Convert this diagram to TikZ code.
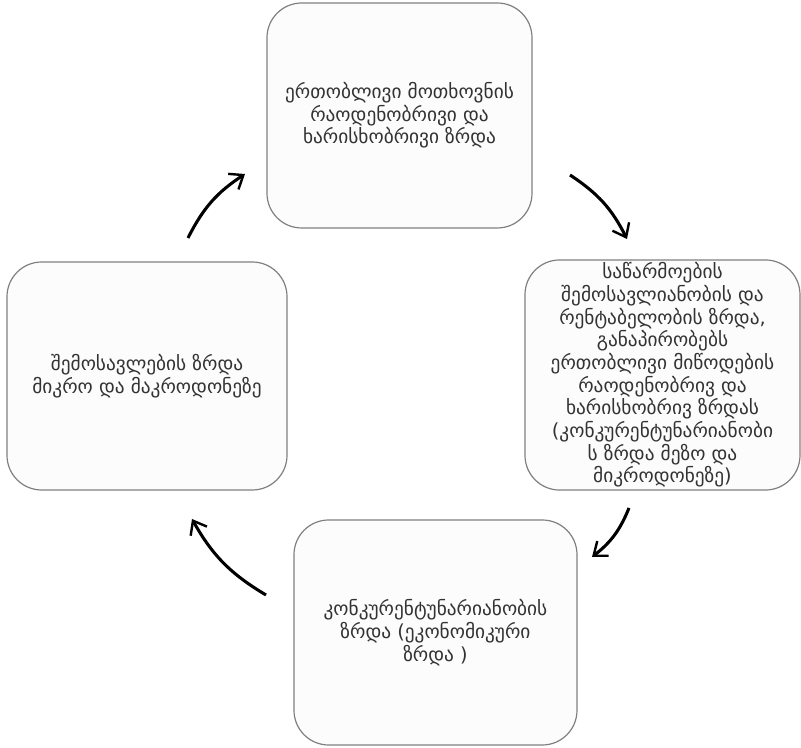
\documentclass[tikz,border=0pt]{standalone}
\usepackage{fontspec}
\usetikzlibrary{arrows.meta}
\newfontfamily\geofont{DejaVu Sans}

\begin{document}
\begin{tikzpicture}[x=0.75pt, y=-0.75pt,
  every node/.style={rectangle, rounded corners=26pt, draw=black!50, line width=0.9pt, fill=black!1,
    align=center, text=black!80, font=\geofont\fontsize{14.5}{17}\selectfont, inner sep=2pt},
  every path/.style={line width=2.3pt},
  cyc/.style={draw=black, bend left=15, -{Straight Barb[length=9pt, width=14pt, line width=1.8pt]}}]
  \useasboundingbox (0,0) rectangle (801,748);

  % boxes
  \node[minimum width=198.75pt, minimum height=168.75pt] (demand) at (399.5,115.5)
    {ერთობლივი მოთხოვნის\\რაოდენობრივი და\\ხარისხობრივი ზრდა};
  \node[minimum width=206.25pt, minimum height=169.5pt] (firms) at (662.5,375)
    {საწარმოების\\შემოსავლიანობის და\\რენტაბელობის ზრდა,\\განაპირობებს\\ერთობლივი მიწოდების\\რაოდენობრივ და\\ხარისხობრივ ზრდას\\(კონკურენტუნარიანობი\\ს ზრდა მეზო და\\მიკროდონეზე)};
  \node[minimum width=212.25pt, minimum height=168.75pt] (compet) at (435.5,632.5)
    {კონკურენტუნარიანობის\\ზრდა (ეკონომიკური\\ზრდა )};
  \node[minimum width=210pt, minimum height=171pt] (income) at (147,376)
    {შემოსავლების ზრდა\\მიკრო და მაკროდონეზე};

  % arrow ends
  \coordinate (a1) at (188,238);
  \coordinate (b1) at (245,174);
  \coordinate (a2) at (570,175);
  \coordinate (b2) at (627,239);
  \coordinate (a3) at (629,508);
  \coordinate (b3) at (592,557);
  \coordinate (a4) at (266,595);
  \coordinate (b4) at (192,519);

  \path (a1) edge[cyc] (b1);
  \path (a2) edge[cyc] (b2);
  \path (a3) edge[cyc] (b3);
  \path (a4) edge[cyc] (b4);
\end{tikzpicture}
\end{document}
